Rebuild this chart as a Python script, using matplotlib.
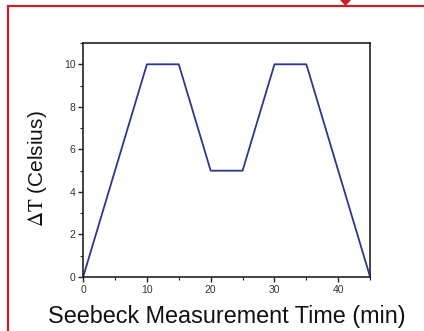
import matplotlib.pyplot as plt
from matplotlib.patches import Rectangle, Polygon
from matplotlib.ticker import MultipleLocator

# temperature-difference program of the Seebeck run
time_min = [0, 10, 15, 20, 25, 30, 35, 45]
delta_t = [0, 10, 10, 5, 5, 10, 10, 0]

plt.rcParams['font.family'] = ['Liberation Sans', 'DejaVu Sans']
plt.rcParams['mathtext.fontset'] = 'stix'

fig = plt.figure(figsize=(4.24, 3.31), dpi=100)
ax = fig.add_axes([0.196, 0.163, 0.677, 0.707])

ax.plot(time_min, delta_t, color='#2e3592', lw=1.3, clip_on=False)

ax.set_xlim(0, 45)
ax.set_ylim(0, 11)
ax.xaxis.set_major_locator(MultipleLocator(10))
ax.xaxis.set_minor_locator(MultipleLocator(5))
ax.yaxis.set_major_locator(MultipleLocator(2))
ax.yaxis.set_minor_locator(MultipleLocator(1))
ax.tick_params(which='both', direction='out', top=False, right=False,
               labelsize=7.5, color='#222222', labelcolor='#333333')
ax.tick_params(which='major', length=3.5, width=1.0, pad=2)
ax.tick_params(which='minor', length=2, width=0.8)
for sp in ax.spines.values():
    sp.set_linewidth(1.2)
    sp.set_color('#222222')

ax.set_xlabel('Seebeck Measurement Time (min)', fontsize=16.8, color='#111111')
ax.xaxis.set_label_coords(0.5, -0.167)
ax.xaxis.label.set_va('center')
ax.set_ylabel(r'$\mathrm{\Delta T}$ (Celsius)', fontsize=15, color='#111111')
ax.yaxis.set_label_coords(-0.16, 0.465)
ax.yaxis.label.set_va('center')

# red frame and marker around the panel
fig.patches.append(Rectangle((8 / 424, -0.05), 1.1, 1 - 6 / 331 + 0.05,
                             transform=fig.transFigure, fill=False,
                             edgecolor='#c8202a', lw=1.6))
fig.patches.append(Polygon([(340 / 424, 1.0), (351 / 424, 1.0),
                            (345.5 / 424, 1 - 6 / 331)],
                           transform=fig.transFigure, closed=True,
                           facecolor='#c8202a', edgecolor='none'))

fig.savefig('out.png', dpi=100)
